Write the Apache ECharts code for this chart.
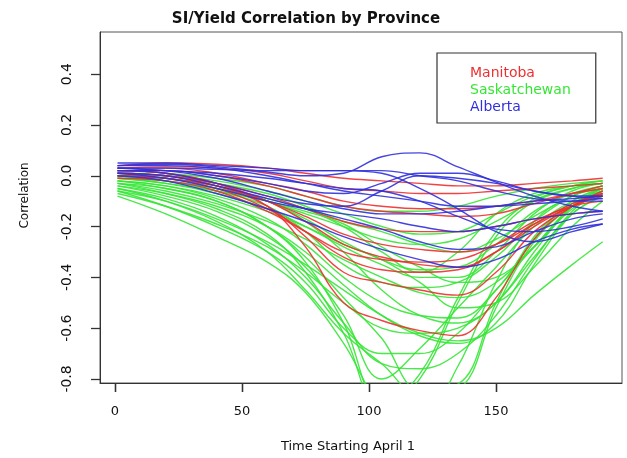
<!DOCTYPE html>
<html><head><meta charset="utf-8">
<script src="https://cdn.jsdelivr.net/npm/echarts@6/dist/echarts.min.js"></script>
<style>html,body{margin:0;padding:0;background:#fff}#c{width:627px;height:458px}</style>
</head><body><div id="c"></div>
<script>
// Day (since April 1) at which each curve value is read
const days = [1, 20, 40, 60, 75, 90, 105, 120, 135, 150, 165, 180, 192];
const xTicks = [0, 50, 100, 150];
const yTicks = [-0.8, -0.6, -0.4, -0.2, 0, 0.2, 0.4];
const provinces = ['Manitoba', 'Saskatchewan', 'Alberta'];
const provinceColors = ['#ee3030', '#36e636', '#3030dc'];

const saskatchewan = [
  [-0.08,-0.15,-0.24,-0.34,-0.46,-0.66,-0.90,-0.95,-0.75,-0.42,-0.18,-0.08,-0.05],
  [-0.06,-0.12,-0.20,-0.30,-0.42,-0.60,-0.70,-0.70,-0.62,-0.45,-0.28,-0.12,-0.06],
  [-0.03,-0.07,-0.13,-0.23,-0.38,-0.62,-0.92,-0.80,-0.50,-0.24,-0.10,-0.05,-0.03],
  [-0.02,-0.05,-0.10,-0.20,-0.34,-0.58,-0.90,-0.78,-0.48,-0.22,-0.09,-0.04,-0.02],
  [-0.06,-0.10,-0.17,-0.26,-0.35,-0.45,-0.55,-0.62,-0.65,-0.60,-0.47,-0.35,-0.26],
  [-0.01,-0.03,-0.07,-0.13,-0.20,-0.28,-0.35,-0.40,-0.40,-0.30,-0.15,-0.06,-0.03],
  [0.00,-0.01,-0.04,-0.10,-0.17,-0.26,-0.33,-0.37,-0.36,-0.27,-0.14,-0.07,-0.04],
  [-0.02,-0.04,-0.09,-0.17,-0.27,-0.40,-0.50,-0.55,-0.56,-0.45,-0.25,-0.10,-0.05],
  [-0.04,-0.07,-0.12,-0.20,-0.30,-0.43,-0.55,-0.63,-0.66,-0.58,-0.35,-0.15,-0.08],
  [-0.03,-0.05,-0.10,-0.20,-0.32,-0.48,-0.64,-0.84,-0.82,-0.50,-0.24,-0.11,-0.06],
  [0.01,0.00,-0.02,-0.06,-0.10,-0.15,-0.20,-0.23,-0.22,-0.15,-0.08,-0.04,-0.02],
  [-0.01,-0.02,-0.05,-0.10,-0.15,-0.20,-0.25,-0.27,-0.25,-0.18,-0.10,-0.05,-0.03],
  [0.00,-0.02,-0.06,-0.12,-0.22,-0.35,-0.42,-0.44,-0.42,-0.32,-0.18,-0.08,-0.04],
  [-0.07,-0.12,-0.19,-0.28,-0.38,-0.50,-0.60,-0.62,-0.60,-0.50,-0.32,-0.15,-0.08],
  [-0.05,-0.10,-0.18,-0.30,-0.45,-0.62,-0.74,-0.86,-0.84,-0.52,-0.26,-0.12,-0.07],
  [0.02,0.01,-0.01,-0.04,-0.08,-0.12,-0.14,-0.14,-0.12,-0.08,-0.05,-0.03,-0.02],
  [-0.01,-0.03,-0.06,-0.10,-0.14,-0.19,-0.28,-0.36,-0.42,-0.40,-0.28,-0.12,-0.05],
  [-0.03,-0.06,-0.11,-0.18,-0.25,-0.33,-0.40,-0.46,-0.48,-0.42,-0.28,-0.13,-0.06],
  [0.00,-0.02,-0.05,-0.09,-0.13,-0.20,-0.30,-0.38,-0.30,-0.15,-0.07,-0.04,-0.03],
  [-0.04,-0.08,-0.14,-0.24,-0.36,-0.55,-0.80,-0.68,-0.52,-0.36,-0.20,-0.10,-0.05],
  [-0.05,-0.09,-0.16,-0.27,-0.40,-0.58,-0.74,-0.76,-0.70,-0.55,-0.33,-0.14,-0.06],
  [0.01,-0.01,-0.04,-0.10,-0.18,-0.30,-0.45,-0.55,-0.58,-0.50,-0.30,-0.12,-0.05],
  [-0.02,-0.04,-0.08,-0.14,-0.20,-0.27,-0.33,-0.42,-0.52,-0.50,-0.36,-0.20,-0.10],
  [0.01,0.00,-0.03,-0.07,-0.12,-0.18,-0.22,-0.27,-0.30,-0.25,-0.16,-0.08,-0.04]
];

const manitoba = [
  [0.04,0.05,0.045,0.03,0.01,-0.01,-0.02,-0.03,-0.04,-0.04,-0.03,-0.02,-0.01],
  [0.03,0.035,0.03,0.01,-0.02,-0.05,-0.06,-0.07,-0.07,-0.06,-0.05,-0.04,-0.03],
  [0.02,0.02,0.00,-0.04,-0.08,-0.12,-0.14,-0.15,-0.16,-0.15,-0.11,-0.07,-0.04],
  [0.01,0.00,-0.03,-0.08,-0.13,-0.18,-0.21,-0.22,-0.22,-0.20,-0.17,-0.15,-0.14],
  [0.00,-0.01,-0.04,-0.10,-0.16,-0.23,-0.27,-0.29,-0.30,-0.27,-0.19,-0.12,-0.07],
  [0.02,0.01,-0.03,-0.10,-0.18,-0.27,-0.32,-0.35,-0.36,-0.30,-0.20,-0.12,-0.08],
  [0.00,-0.01,-0.05,-0.13,-0.22,-0.32,-0.37,-0.38,-0.37,-0.30,-0.19,-0.11,-0.07],
  [0.01,0.00,-0.04,-0.12,-0.24,-0.38,-0.42,-0.45,-0.47,-0.38,-0.22,-0.12,-0.06],
  [0.02,0.01,-0.03,-0.12,-0.28,-0.50,-0.57,-0.61,-0.63,-0.48,-0.25,-0.12,-0.07],
  [-0.01,-0.02,-0.06,-0.14,-0.22,-0.30,-0.33,-0.34,-0.33,-0.27,-0.18,-0.12,-0.10],
  [0.03,0.03,0.01,-0.03,-0.06,-0.10,-0.12,-0.13,-0.13,-0.12,-0.10,-0.07,-0.05]
];

const alberta = [
  [0.04,0.045,0.035,0.015,0.00,0.01,0.075,0.09,0.035,-0.025,-0.08,-0.12,-0.14],
  [0.03,0.03,0.025,0.02,0.02,0.02,0.01,-0.05,-0.13,-0.22,-0.26,-0.22,-0.19],
  [0.02,0.01,-0.03,-0.08,-0.11,-0.12,-0.06,0.00,-0.01,-0.03,-0.06,-0.08,-0.09],
  [0.05,0.05,0.04,0.03,0.02,0.02,0.02,0.00,-0.02,-0.06,-0.09,-0.10,-0.10],
  [0.00,-0.02,-0.07,-0.13,-0.18,-0.24,-0.29,-0.33,-0.36,-0.33,-0.26,-0.21,-0.19],
  [0.01,-0.01,-0.05,-0.10,-0.13,-0.15,-0.17,-0.20,-0.22,-0.20,-0.17,-0.15,-0.14],
  [0.03,0.02,0.01,-0.01,-0.03,-0.05,-0.06,-0.10,-0.16,-0.21,-0.22,-0.20,-0.17],
  [0.02,0.02,0.00,-0.03,-0.06,-0.07,-0.03,0.01,0.01,-0.02,-0.06,-0.08,-0.08],
  [0.01,0.00,-0.04,-0.09,-0.13,-0.17,-0.21,-0.26,-0.29,-0.28,-0.22,-0.17,-0.15],
  [0.04,0.04,0.03,0.00,-0.03,-0.06,-0.08,-0.10,-0.12,-0.12,-0.11,-0.10,-0.09],
  [0.03,0.02,-0.01,-0.06,-0.10,-0.13,-0.15,-0.15,-0.14,-0.12,-0.10,-0.09,-0.08]
];

function makeSeries(curves, name, color) {
  return curves.map(function (c) {
    return {
      type: 'line', name: name, silent: true, animation: false,
      data: c.map(function (v, i) { return [days[i], v]; }),
      smooth: 0.4, showSymbol: false, symbol: 'none', clip: true,
      lineStyle: { color: color, width: 1.4, opacity: 0.9 },
      itemStyle: { color: color }
    };
  });
}

const chart = echarts.init(document.getElementById('c'), null, { renderer: 'canvas' });
const font = 'DejaVu Sans';
const axisColor = '#333';
const xMin = -5.9, xMax = 199.6, yMin = -0.816, yMax = 0.566;
chart.setOption({
  animation: false,
  backgroundColor: '#fff',
  title: {
    text: 'SI/Yield Correlation by Province', left: 301, top: 7, textAlign: 'center',
    textStyle: { fontFamily: font, fontWeight: 'bold', fontSize: 15, color: '#111' }
  },
  legend: {
    orient: 'vertical', left: 437, top: 53, selectedMode: false,
    padding: [13, 25, 9, 28], itemGap: 3, itemWidth: 0, itemHeight: 0, icon: 'none',
    borderColor: '#333', borderWidth: 1.2,
    textStyle: { fontFamily: font, fontSize: 14 },
    data: provinces.map(function (p, i) { return { name: p, textStyle: { color: provinceColors[i] } }; })
  },
  grid: { left: 100, top: 32, width: 522, height: 354, show: true, borderColor: '#555', borderWidth: 1 },
  xAxis: {
    type: 'value', min: xMin, max: xMax,
    name: 'Time Starting April 1', nameLocation: 'middle', nameGap: 57,
    nameTextStyle: { fontFamily: font, fontSize: 13, color: '#111', padding: [0, 26, 0, 0] },
    axisLine: { show: true, onZero: false, lineStyle: { color: axisColor, width: 1 } },
    splitLine: { show: false },
    axisTick: { show: true, customValues: xTicks, length: 9, lineStyle: { color: axisColor, width: 1.3 } },
    axisLabel: { customValues: xTicks, margin: 22, fontFamily: font, fontSize: 13, color: '#111' }
  },
  yAxis: {
    type: 'value', min: yMin, max: yMax,
    name: 'Correlation', nameLocation: 'middle', nameGap: 69,
    nameTextStyle: { fontFamily: font, fontSize: 12, color: '#111', padding: [0, 0, 0, 24] },
    axisLine: { show: true, onZero: false, lineStyle: { color: axisColor, width: 1 } },
    splitLine: { show: false },
    axisTick: { show: true, customValues: yTicks, length: 9, lineStyle: { color: axisColor, width: 1.3 } },
    axisLabel: {
      customValues: yTicks, rotate: 90, margin: 26, fontFamily: font, fontSize: 14, color: '#111',
      formatter: function (v) { return (Math.abs(v) < 1e-9 ? 0 : v).toFixed(1); }
    }
  },
  series: [].concat(
    makeSeries(saskatchewan, provinces[1], provinceColors[1]),
    makeSeries(manitoba, provinces[0], provinceColors[0]),
    makeSeries(alberta, provinces[2], provinceColors[2])
  )
});

// Make sure the outward x ticks are visible: place them through the axis scale.
const tickMarks = xTicks.map(function (v) {
  const p = chart.convertToPixel({ gridIndex: 0 }, [v, yMin]);
  return {
    type: 'line', silent: true, z: 100,
    shape: { x1: Math.round(p[0]) + 0.5, y1: p[1], x2: Math.round(p[0]) + 0.5, y2: p[1] + 9 },
    style: { stroke: axisColor, lineWidth: 1.3 }
  };
});
chart.setOption({ graphic: { elements: tickMarks } });
</script></body></html>
